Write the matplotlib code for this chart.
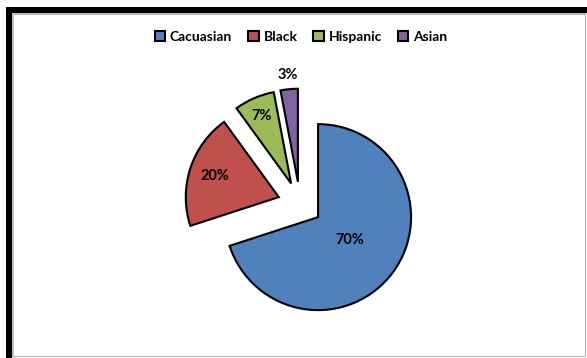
import numpy as np
import matplotlib
matplotlib.use("Agg")
import matplotlib.pyplot as plt
from matplotlib.patches import Rectangle

# --- Data ---
groups = ["Cacuasian", "Black", "Hispanic", "Asian"]
shares = [70, 20, 7, 3]
colors = ["#4F81BD", "#C0504D", "#9BBB59", "#8064A2"]

# label distance from each (exploded) wedge centre, in radius units
label_dist = [0.42, 0.72, 0.79, 1.15]
EXPLODE = 0.24

plt.rcParams["font.family"] = ["Lato", "DejaVu Sans"]

W, H = 587, 358
fig = plt.figure(figsize=(W / 100, H / 100), dpi=100)

# pie centre at (300, 204) px, radius 93 px
cx, cy, R, half = 300, 204, 93, 150
ax = fig.add_axes([(cx - half) / W, (H - cy - half) / H, 2 * half / W, 2 * half / H])

wedges, texts, autotexts = ax.pie(
    shares, colors=colors, startangle=90, counterclock=False,
    explode=[EXPLODE] * len(shares), autopct="%d%%",
    wedgeprops=dict(edgecolor="black", linewidth=1.5),
    textprops=dict(fontsize=10.5, fontweight="bold", color="black"),
)

# place the percentage labels
for w, t, d in zip(wedges, autotexts, label_dist):
    ang = np.deg2rad((w.theta1 + w.theta2) / 2)
    r = EXPLODE + d
    t.set_position((r * np.cos(ang), r * np.sin(ang)))

lim = half / R
ax.set_xlim(-lim, lim)
ax.set_ylim(-lim, lim)
ax.set_aspect("equal")
ax.axis("off")

fig.legend(wedges, groups, loc="center", bbox_to_anchor=(301 / W, 1 - 37 / H),
           ncol=4, frameon=False, prop=dict(size=10, weight="bold"),
           handlelength=0.75, handleheight=0.75, handletextpad=0.35,
           columnspacing=1.15)

# chart frame: thick black on left/top, thin grey on right/bottom
def px_rect(x0, y0, x1, y1, color):
    fig.add_artist(Rectangle((x0 / W, 1 - y1 / H), (x1 - x0) / W, (y1 - y0) / H,
                             transform=fig.transFigure, color=color, lw=0))

px_rect(6, 7, 12, H, "black")
px_rect(6, 7, W, 13, "black")
px_rect(12, 13, 13.5, 357, "#bdbdbd")
px_rect(12, 13, 585, 14.5, "#bdbdbd")
px_rect(584.5, 13, 586, 357, "#b0b0b0")
px_rect(12, 355.5, 586, 357, "#b0b0b0")

fig.savefig("out.png", dpi=100, facecolor="white")
